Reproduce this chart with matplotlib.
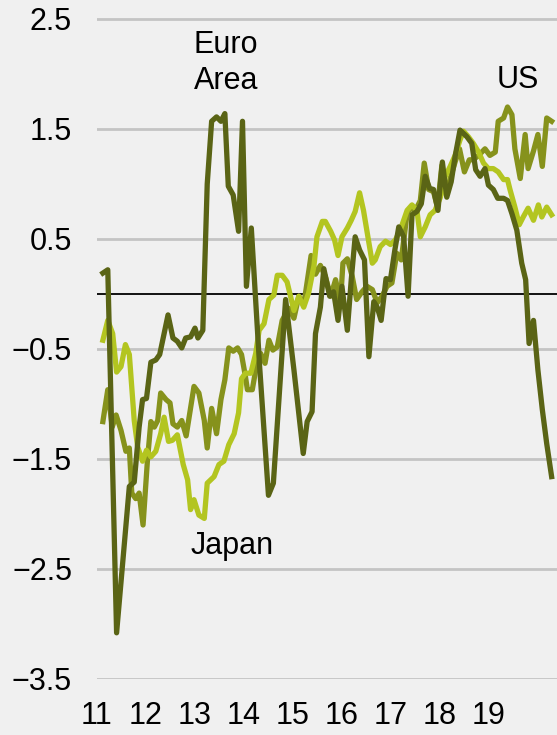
import matplotlib.pyplot as plt
import numpy as np

plt.rcParams['font.family'] = ['Liberation Sans', 'DejaVu Sans']

# dark olive series (labelled "Euro Area" on the chart)
dark_t = [2011.12, 2011.22, 2011.40, 2011.66, 2011.76, 2011.86, 2011.93, 2012.01,
          2012.10, 2012.20, 2012.28, 2012.37, 2012.45, 2012.55, 2012.64, 2012.73,
          2012.81, 2012.91, 2013.00, 2013.06, 2013.16, 2013.25, 2013.34, 2013.44,
          2013.53, 2013.61, 2013.68, 2013.78, 2013.89, 2013.97, 2014.05, 2014.15,
          2014.32, 2014.50, 2014.60, 2014.85, 2015.02, 2015.21, 2015.29, 2015.39,
          2015.46, 2015.56, 2015.63, 2015.75, 2015.83, 2015.92, 2016.00, 2016.11,
          2016.19, 2016.27, 2016.36, 2016.46, 2016.55, 2016.65, 2016.72, 2016.80,
          2016.90, 2016.99, 2017.08, 2017.16, 2017.26, 2017.35, 2017.43, 2017.53,
          2017.62, 2017.70, 2017.79, 2017.87, 2017.96, 2018.05, 2018.14, 2018.23,
          2018.31, 2018.41, 2018.55, 2018.65, 2018.73, 2018.82, 2018.92, 2018.99,
          2019.09, 2019.18, 2019.30, 2019.38, 2019.47, 2019.57, 2019.67, 2019.75,
          2019.82, 2019.91, 2020.00, 2020.09, 2020.18, 2020.28]
dark_v = [0.19, 0.22, -3.08, -1.75, -1.71, -1.21, -0.96, -0.95,
          -0.62, -0.60, -0.55, -0.36, -0.19, -0.40, -0.43, -0.49,
          -0.40, -0.39, -0.31, -0.40, -0.33, 1.00, 1.57, 1.61,
          1.57, 1.64, 0.98, 0.90, 0.57, 1.57, 0.07, 0.60,
          -0.66, -1.83, -1.72, -0.05, -0.69, -1.45, -1.16, -1.07,
          -0.36, -0.12, 0.23, -0.02, 0.02, -0.24, 0.07, -0.33,
          0.13, 0.52, 0.40, 0.31, -0.57, -0.07, -0.12, -0.24,
          0.14, 0.13, 0.40, 0.61, 0.52, -0.02, 0.72, 0.75,
          0.82, 1.07, 0.96, 0.95, 0.76, 1.20, 0.88, 1.02,
          1.25, 1.49, 1.43, 1.37, 1.13, 1.07, 1.14, 0.99,
          0.95, 0.87, 0.87, 0.85, 0.73, 0.58, 0.28, 0.13,
          -0.45, -0.24, -0.69, -1.05, -1.36, -1.66]

# medium olive series (labelled "US")
mid_t = [2011.12, 2011.22, 2011.31, 2011.39, 2011.49, 2011.59, 2011.66, 2011.71,
         2011.79, 2011.86, 2011.94, 2012.03, 2012.10, 2012.17, 2012.24, 2012.30,
         2012.41, 2012.49, 2012.55, 2012.64, 2012.73, 2012.82, 2012.98, 2013.08,
         2013.19, 2013.25, 2013.34, 2013.44, 2013.53, 2013.61, 2013.69, 2013.78,
         2013.87, 2013.95, 2014.03, 2014.07, 2014.17, 2014.24, 2014.34, 2014.43,
         2014.51, 2014.59, 2014.68, 2014.78, 2014.92, 2015.02, 2015.12, 2015.22,
         2015.37, 2015.46, 2015.56, 2015.66, 2015.77, 2015.87, 2015.97, 2016.02,
         2016.11, 2016.21, 2016.30, 2016.41, 2016.51, 2016.62, 2016.72, 2016.82,
         2016.92, 2017.02, 2017.12, 2017.21, 2017.33, 2017.40, 2017.50, 2017.60,
         2017.68, 2017.77, 2017.87, 2017.95, 2018.04, 2018.13, 2018.21, 2018.31,
         2018.40, 2018.50, 2018.60, 2018.68, 2018.79, 2018.92, 2019.02, 2019.13,
         2019.19, 2019.30, 2019.38, 2019.47, 2019.53, 2019.64, 2019.74, 2019.80,
         2019.91, 2020.00, 2020.09, 2020.18, 2020.28]
mid_v = [-1.16, -0.87, -1.21, -1.10, -1.24, -1.43, -1.40, -1.81,
         -1.86, -1.81, -2.10, -1.51, -1.16, -1.21, -1.15, -0.90,
         -0.96, -0.99, -1.18, -1.21, -1.15, -1.29, -0.84, -0.90,
         -1.15, -1.40, -1.04, -1.27, -0.96, -0.78, -0.49, -0.52,
         -0.49, -0.55, -0.75, -0.87, -0.87, -0.69, -0.54, -0.63,
         -0.42, -0.51, -0.48, -0.24, -0.13, -0.22, -0.02, -0.10,
         0.35, 0.18, 0.26, 0.16, -0.02, 0.13, -0.08, 0.28,
         0.32, 0.16, -0.05, 0.02, 0.07, 0.04, -0.08, -0.02,
         0.07, 0.10, 0.37, 0.31, 0.73, 0.78, 0.76, 0.85,
         1.19, 0.95, 0.93, 0.79, 1.17, 0.90, 1.05, 1.20,
         1.32, 1.11, 1.22, 1.22, 1.26, 1.32, 1.26, 1.29,
         1.57, 1.60, 1.70, 1.63, 1.32, 1.05, 1.45, 1.14,
         1.30, 1.45, 1.16, 1.60, 1.57]

# light yellow-green series
light_t = [2011.12, 2011.22, 2011.32, 2011.40, 2011.49, 2011.58, 2011.66, 2011.76,
           2011.83, 2011.93, 2012.01, 2012.10, 2012.20, 2012.30, 2012.37, 2012.46,
           2012.54, 2012.64, 2012.76, 2012.85, 2012.91, 2012.98, 2013.08, 2013.19,
           2013.25, 2013.39, 2013.49, 2013.59, 2013.69, 2013.80, 2013.89, 2013.95,
           2014.03, 2014.14, 2014.24, 2014.31, 2014.41, 2014.51, 2014.61, 2014.68,
           2014.78, 2014.88, 2015.02, 2015.12, 2015.22, 2015.32, 2015.43, 2015.49,
           2015.60, 2015.66, 2015.77, 2015.85, 2015.92, 2016.00, 2016.11, 2016.19,
           2016.27, 2016.36, 2016.44, 2016.53, 2016.62, 2016.68, 2016.78, 2016.89,
           2016.99, 2017.09, 2017.19, 2017.33, 2017.43, 2017.53, 2017.60, 2017.70,
           2017.80, 2017.90, 2018.01, 2018.11, 2018.21, 2018.31, 2018.41, 2018.48,
           2018.58, 2018.68, 2018.79, 2018.89, 2018.99, 2019.09, 2019.19, 2019.30,
           2019.38, 2019.43, 2019.53, 2019.62, 2019.70, 2019.80, 2019.91, 2020.01,
           2020.08, 2020.18, 2020.28]
light_v = [-0.42, -0.24, -0.36, -0.71, -0.66, -0.46, -0.55, -1.15,
           -1.39, -1.52, -1.42, -1.48, -1.43, -1.27, -1.12, -1.34,
           -1.33, -1.28, -1.55, -1.69, -1.96, -1.87, -2.01, -2.04,
           -1.72, -1.66, -1.55, -1.52, -1.37, -1.27, -1.08, -0.77,
           -0.72, -0.72, -0.54, -0.33, -0.27, -0.05, -0.01, 0.17,
           0.17, 0.11, -0.15, -0.02, -0.12, 0.01, 0.26, 0.52,
           0.66, 0.66, 0.57, 0.49, 0.35, 0.52, 0.60, 0.67,
           0.75, 0.92, 0.76, 0.52, 0.28, 0.31, 0.43, 0.48,
           0.45, 0.49, 0.58, 0.76, 0.81, 0.76, 0.52, 0.61,
           0.72, 0.76, 0.88, 1.07, 1.16, 1.26, 1.40, 1.48,
           1.43, 1.37, 1.29, 1.19, 1.14, 1.14, 1.11, 1.04,
           1.04, 0.95, 0.79, 0.63, 0.70, 0.78, 0.67, 0.81,
           0.70, 0.79, 0.72]

years = [2011, 2012, 2013, 2014, 2015, 2016, 2017, 2018, 2019]
year_labels = ['11', '12', '13', '14', '15', '16', '17', '18', '19']
y_ticks = [2.5, 1.5, 0.5, -0.5, -1.5, -2.5, -3.5]

bg = '#f0f0f0'
fig = plt.figure(figsize=(5.57, 7.35), dpi=100, facecolor=bg)
ax = fig.add_axes([97 / 557, 1 - 679 / 735, 460 / 557, 671 / 735])
ax.set_facecolor(bg)

ax.set_xlim(2011.02, 2020.39)
ax.set_ylim(-3.5, 2.6)

for y in y_ticks:
    ax.axhline(y, color='#c4c4c4', lw=2.0, zorder=1)
ax.axhline(0, color='black', lw=1.3, zorder=2)

ax.plot(mid_t, mid_v, color='#86921c', lw=3.8, zorder=3, solid_joinstyle='round')
ax.plot(light_t, light_v, color='#b3c520', lw=3.8, zorder=4, solid_joinstyle='round')
ax.plot(dark_t, dark_v, color='#5a6415', lw=3.8, zorder=5, solid_joinstyle='round')

ax.set_xticks(years)
ax.set_xticklabels(year_labels)
ax.set_yticks(y_ticks)
ax.set_yticklabels([f'{v:.1f}'.replace('-', '\u2212') for v in y_ticks])
ax.tick_params(axis='both', length=0, labelsize=22, colors='black')
ax.tick_params(axis='x', pad=16)
ax.tick_params(axis='y', pad=18)
for s in ax.spines.values():
    s.set_visible(False)

ax.text(2013.63, 2.10, 'Euro\nArea', fontsize=22, ha='center', va='center',
        linespacing=1.25)
ax.text(2019.59, 1.95, 'US', fontsize=22, ha='center', va='center')
ax.text(2013.75, -2.29, 'Japan', fontsize=22, ha='center', va='center')

fig.savefig('out.png', dpi=100, facecolor=bg)
